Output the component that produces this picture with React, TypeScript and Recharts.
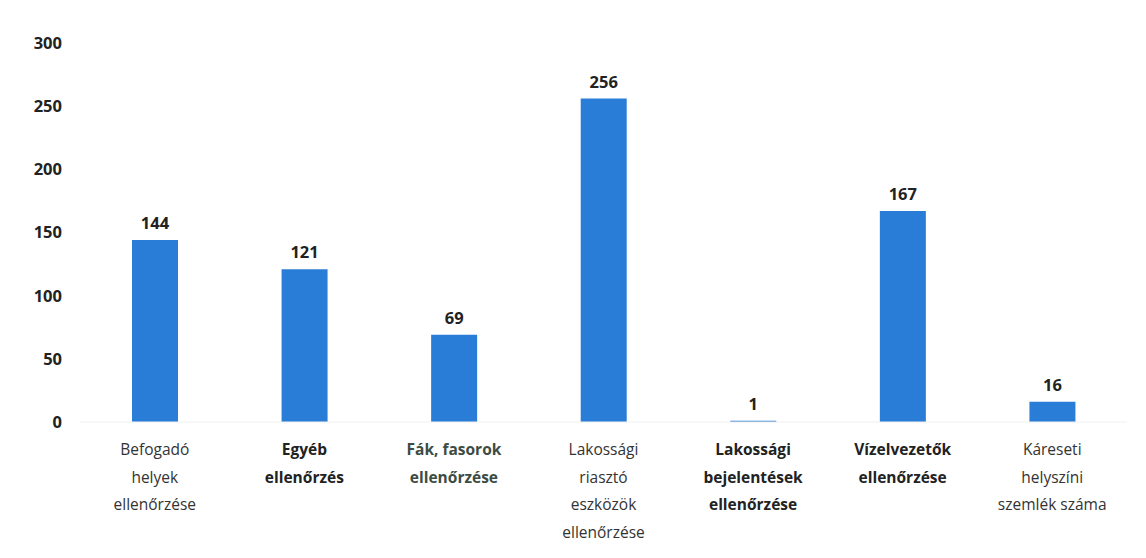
import React from "react";
import { BarChart, Bar, XAxis, YAxis, LabelList } from "recharts";

const categories = [
  "Befogadó helyek ellenőrzése",
  "Egyéb ellenőrzés",
  "Fák, fasorok ellenőrzése",
  "Lakossági riasztó eszközök ellenőrzése",
  "Lakossági bejelentések ellenőrzése",
  "Vízelvezetők ellenőrzése",
  "Káreseti helyszíni szemlék száma",
];
const categoryLines = [
  ["Befogadó", "helyek", "ellenőrzése"],
  ["Egyéb", "ellenőrzés"],
  ["Fák, fasorok", "ellenőrzése"],
  ["Lakossági", "riasztó", "eszközök", "ellenőrzése"],
  ["Lakossági", "bejelentések", "ellenőrzése"],
  ["Vízelvezetők", "ellenőrzése"],
  ["Káreseti", "helyszíni", "szemlék száma"],
];
const boldLabels = [false, true, true, false, true, true, false];
const labelColors = ["#333", "#222", "#3c4c44", "#333", "#222", "#222", "#333"];
const values = [144, 121, 69, 256, 1, 167, 16];
const yTicks = [0, 50, 100, 150, 200, 250, 300];

const data = categories.map((c, i) => ({ name: c, value: values[i], idx: i }));

const FONT = "'Open Sans', 'Noto Sans', sans-serif";

const CategoryTick = (props: any) => {
  const { x, y, index } = props;
  const lines = categoryLines[index] || [];
  return (
    <g transform={`translate(${x},${y})`}>
      {lines.map((l, i) => (
        <text
          key={i}
          x={0}
          y={i * 27.5}
          dy={25}
          textAnchor="middle"
          fontSize={15.5}
          fontFamily={FONT}
          fontWeight={boldLabels[index] ? 700 : 400}
          fill={labelColors[index]}
        >
          {l}
        </text>
      ))}
    </g>
  );
};

export default function App() {
  return (
    <div style={{ position: "absolute", left: 0, top: 0, width: 1146, height: 558, background: "#fff" }}>
      <BarChart
        width={1146}
        height={558}
        data={data}
        margin={{ top: 43, right: 19, bottom: 0, left: 10 }}
        barCategoryGap={0}
      >
        <XAxis
          dataKey="name"
          interval={0}
          tick={<CategoryTick />}
          tickLine={false}
          axisLine={{ stroke: "#f0f0f0" }}
          height={136}
        />
        <YAxis
          domain={[0, 300]}
          ticks={yTicks}
          width={70}
          axisLine={false}
          tickLine={false}
          tickMargin={12}
          tick={{ fontSize: 16.5, fontWeight: 700, fill: "#222", fontFamily: FONT }}
        />
        <Bar dataKey="value" fill="#2a7dd6" barSize={46} isAnimationActive={false}>
          <LabelList
            dataKey="value"
            position="top"
            offset={11}
            style={{ fontSize: 16.5, fontWeight: 700, fill: "#222", fontFamily: FONT }}
          />
        </Bar>
      </BarChart>
    </div>
  );
}
